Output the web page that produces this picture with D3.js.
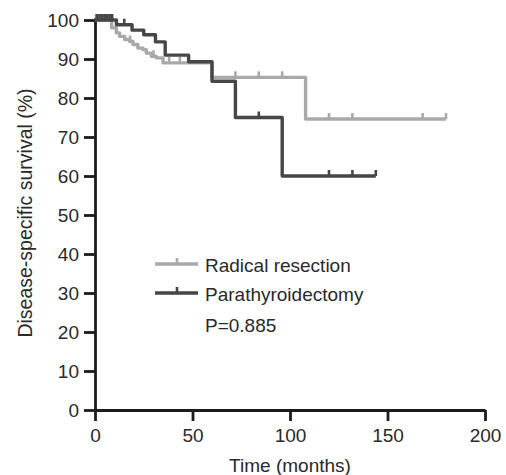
<!DOCTYPE html>
<html>
<head>
<meta charset="utf-8">
<script src="https://d3js.org/d3.v7.min.js"></script>
<style>
  body { margin: 0; background: #fff; }
  text { font-family: "Liberation Sans", Arial, sans-serif; }
</style>
</head>
<body>
<div id="chart"></div>
<script>
// Radical resection (light grey)
const radTimes = [0, 8.5, 10.9, 12.6, 15.2, 17.8, 19.5, 22, 24.6, 26.3, 28.9, 31.4, 34.9, 60, 108, 180];
const radSurv  = [100, 98, 96.7, 95.8, 95, 94.5, 93.7, 92.8, 92.4, 91.5, 90.7, 90.3, 89, 85.3, 74.6, 74.6];
const radCensor = [0.5, 1.2, 2, 2.7, 3.5, 4.2, 5, 5.7, 6.5, 7.2, 8, 18, 30, 38, 43.5, 72, 84, 96, 120, 132, 168, 180];

// Parathyroidectomy (dark grey)
const parTimes = [0, 11, 19, 25, 31, 36, 48, 60, 72, 96, 144];
const parSurv  = [100, 98.8, 97.4, 96.2, 94.4, 91, 89.3, 84.3, 75, 60, 60];
const parCensor = [1, 2.3, 3.6, 4.9, 6.2, 7.5, 8.8, 15, 84, 120, 132, 144];

const xTicks = [0, 50, 100, 150, 200];
const yTicks = [0, 10, 20, 30, 40, 50, 60, 70, 80, 90, 100];

const width = 506, height = 475;
const margin = { top: 20, left: 95 };
const plotW = 390, plotH = 390;

const svg = d3.select("#chart")
  .append("svg")
  .attr("width", width)
  .attr("height", height);

const x = d3.scaleLinear().domain([0, 200]).range([margin.left, margin.left + plotW]);
const y = d3.scaleLinear().domain([0, 100]).range([margin.top + plotH, margin.top]);

const axisColor = "#1c1c1c";

// axes
const xAxis = svg.append("g")
  .attr("transform", `translate(0,${y(0)})`)
  .call(d3.axisBottom(x).tickValues(xTicks).tickSize(11).tickPadding(8).tickSizeOuter(0));
const yAxis = svg.append("g")
  .attr("transform", `translate(${x(0)},0)`)
  .call(d3.axisLeft(y).tickValues(yTicks).tickSize(11).tickPadding(5).tickSizeOuter(0));

[xAxis, yAxis].forEach(g => {
  g.select(".domain").attr("stroke", axisColor).attr("stroke-width", 2.8);
  g.selectAll(".tick line").attr("stroke", axisColor).attr("stroke-width", 2.8);
  g.selectAll(".tick text")
    .attr("fill", "#2a2a2a")
    .attr("font-size", "19px")
    .attr("font-family", "Liberation Sans, Arial, sans-serif");
});
yAxis.select(".domain").attr("d", `M0.5,${y(0) + 1}V${y(100) - 2}`);

// axis titles
svg.append("text")
  .attr("x", x(100))
  .attr("y", 472)
  .attr("text-anchor", "middle")
  .attr("font-size", "19px")
  .attr("fill", "#2a2a2a")
  .text("Time (months)");

svg.append("text")
  .attr("transform", `translate(32,${y(50) - 2}) rotate(-90)`)
  .attr("text-anchor", "middle")
  .attr("font-size", "19.5px")
  .attr("fill", "#2a2a2a")
  .text("Disease-specific survival (%)");

const line = d3.line()
  .x(d => x(d[0]))
  .y(d => y(d[1]))
  .curve(d3.curveStepAfter);

// survival value at time t for a step curve
function survAt(times, surv, t) {
  let v = surv[0];
  for (let i = 0; i < times.length; i++) {
    if (times[i] <= t) v = surv[i];
  }
  return v;
}

function drawCurve(times, surv, censor, color) {
  const pts = times.map((t, i) => [t, surv[i]]);
  svg.append("path")
    .datum(pts)
    .attr("d", line)
    .attr("fill", "none")
    .attr("stroke", color)
    .attr("stroke-width", 3.4)
    .attr("stroke-linejoin", "round");

  svg.append("g")
    .selectAll("line")
    .data(censor)
    .join("line")
    .attr("x1", d => x(d))
    .attr("x2", d => x(d))
    .attr("y1", d => y(survAt(times, surv, d)))
    .attr("y2", d => y(survAt(times, surv, d)) - 6)
    .attr("stroke", color)
    .attr("stroke-width", 2.6);
}

const lightGrey = "#a9a9a9";
const darkGrey = "#464646";

drawCurve(radTimes, radSurv, radCensor, lightGrey);
drawCurve(parTimes, parSurv, parCensor, darkGrey);

// legend
const legend = [
  { label: "Radical resection", color: lightGrey, y: 264 },
  { label: "Parathyroidectomy", color: darkGrey, y: 293 }
];
legend.forEach(d => {
  svg.append("line")
    .attr("x1", 155).attr("x2", 198)
    .attr("y1", d.y).attr("y2", d.y)
    .attr("stroke", d.color).attr("stroke-width", 3.4);
  svg.append("line")
    .attr("x1", 177).attr("x2", 177)
    .attr("y1", d.y).attr("y2", d.y - 6)
    .attr("stroke", d.color).attr("stroke-width", 2.6);
  svg.append("text")
    .attr("x", 205)
    .attr("y", d.y + 8)
    .attr("font-size", "19px")
    .attr("fill", "#2a2a2a")
    .text(d.label);
});
svg.append("text")
  .attr("x", 205)
  .attr("y", 332)
  .attr("font-size", "19px")
  .attr("fill", "#2a2a2a")
  .text("P=0.885");
</script>
</body>
</html>
